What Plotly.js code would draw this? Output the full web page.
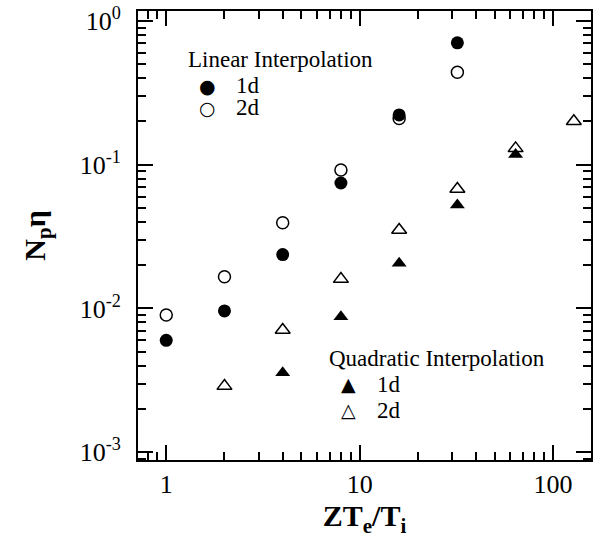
<!DOCTYPE html>
<html><head><meta charset="utf-8">
<script src="https://cdn.plot.ly/plotly-3.0.1.min.js"></script>
<style>html,body{margin:0;padding:0;background:#fff}</style>
</head><body>
<div id="chart" style="width:615px;height:548px"></div>
<script>
// ZTe/Ti values
const linX = [1, 2, 4, 8, 16, 32];
const lin1d = [0.0060, 0.0096, 0.0237, 0.0746, 0.222, 0.706];
const lin2d = [0.0090, 0.0166, 0.0395, 0.0918, 0.210, 0.440];
const quad1dX = [4, 8, 16, 32, 64];
const quad1d = [0.00357, 0.00875, 0.0206, 0.0525, 0.118];
const quad2dX = [2, 4, 8, 16, 32, 64, 128];
const quad2d = [0.00288, 0.00708, 0.0160, 0.0351, 0.0678, 0.130, 0.201];

const xTickVals = [1, 10, 100];
const xTickText = ['1', '10', '100'];
const yTickVals = [1, 0.1, 0.01, 0.001];
const yTickText = ['10<sup>0</sup>', '10<sup>-1</sup>', '10<sup>-2</sup>', '10<sup>-3</sup>'];

const FONT = 'Liberation Serif';

const traces = [
  {x: linX, y: lin1d, mode: 'markers', name: 'Linear 1d',
   marker: {symbol: 'circle', size: 13, color: '#000'}},
  {x: linX, y: lin2d, mode: 'markers', name: 'Linear 2d',
   marker: {symbol: 'circle-open', size: 12, color: '#000', line: {width: 1.5, color: '#000'}}},
  {x: quad1dX, y: quad1d, mode: 'markers', name: 'Quadratic 1d',
   marker: {symbol: 'triangle-up', size: 13, color: '#000'}},
  {x: quad2dX, y: quad2d, mode: 'markers', name: 'Quadratic 2d',
   marker: {symbol: 'triangle-up-open', size: 13, color: '#000', line: {width: 1.5, color: '#000'}}}
];

const axCommon = {
  type: 'log', showgrid: false, zeroline: false,
  showline: true, linewidth: 2, linecolor: '#000', mirror: 'allticks',
  ticks: 'inside', ticklen: 15, tickwidth: 2, tickcolor: '#000',
  minor: {ticks: 'inside', ticklen: 8, tickwidth: 2, tickcolor: '#000', dtick: 'D1', showgrid: false},
  tickfont: {family: FONT, size: 26, color: '#000'}
};

const legendText = {family: FONT, size: 23, color: '#000'};
const symFont = {family: 'DejaVu Sans', size: 19, color: '#000'};

const layout = {
  width: 615, height: 548,
  margin: {l: 138, r: 24, t: 11, b: 88},
  paper_bgcolor: '#fff', plot_bgcolor: '#fff',
  showlegend: false,
  font: {family: FONT, color: '#000'},
  xaxis: Object.assign({}, axCommon, {
    range: [-0.146, 2.196], tickmode: 'array', tickvals: xTickVals, ticktext: xTickText,
    ticklabelstandoff: 0,
    title: {text: '<b>ZT<sub>e</sub>/T<sub>i</sub></b>', font: {family: FONT, size: 30, color: '#000'}, standoff: 1}
  }),
  yaxis: Object.assign({}, axCommon, {
    range: [-3.055, 0.07], tickmode: 'array', tickvals: yTickVals, ticktext: yTickText,
    ticklabelstandoff: 10,
    title: {text: '<b>N<sub>p</sub>η</b>', font: {family: FONT, size: 30, color: '#000'}, standoff: 25}
  }),
  annotations: [
    {xref: 'paper', yref: 'paper', x: 0.106, y: 0.891, xanchor: 'left', yanchor: 'middle',
     text: 'Linear Interpolation', showarrow: false, font: legendText},
    {xref: 'paper', yref: 'paper', x: 0.154, y: 0.833, xanchor: 'center', yanchor: 'middle',
     text: '●', showarrow: false, font: symFont},
    {xref: 'paper', yref: 'paper', x: 0.213, y: 0.833, xanchor: 'left', yanchor: 'middle',
     text: '1d', showarrow: false, font: legendText},
    {xref: 'paper', yref: 'paper', x: 0.154, y: 0.784, xanchor: 'center', yanchor: 'middle',
     text: '○', showarrow: false, font: symFont},
    {xref: 'paper', yref: 'paper', x: 0.213, y: 0.784, xanchor: 'left', yanchor: 'middle',
     text: '2d', showarrow: false, font: legendText},
    {xref: 'paper', yref: 'paper', x: 0.418, y: 0.227, xanchor: 'left', yanchor: 'middle',
     text: 'Quadratic Interpolation', showarrow: false, font: legendText},
    {xref: 'paper', yref: 'paper', x: 0.464, y: 0.169, xanchor: 'center', yanchor: 'middle',
     text: '▲', showarrow: false, font: symFont},
    {xref: 'paper', yref: 'paper', x: 0.524, y: 0.169, xanchor: 'left', yanchor: 'middle',
     text: '1d', showarrow: false, font: legendText},
    {xref: 'paper', yref: 'paper', x: 0.464, y: 0.111, xanchor: 'center', yanchor: 'middle',
     text: '△', showarrow: false, font: symFont},
    {xref: 'paper', yref: 'paper', x: 0.524, y: 0.111, xanchor: 'left', yanchor: 'middle',
     text: '2d', showarrow: false, font: legendText}
  ]
};

Plotly.newPlot('chart', traces, layout, {displayModeBar: false, staticPlot: true});
</script>
</body></html>
